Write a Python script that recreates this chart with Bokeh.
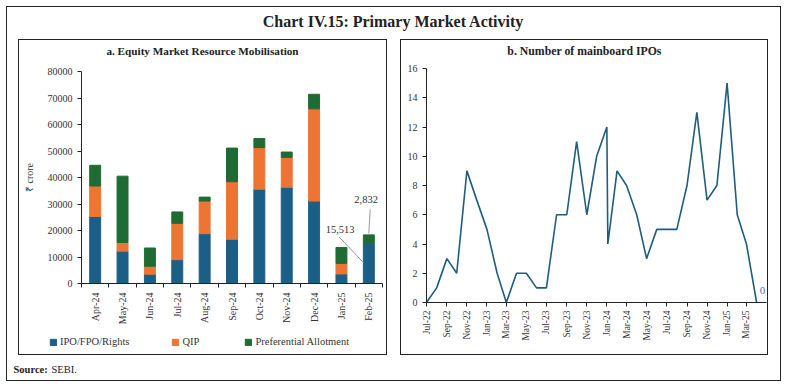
import numpy as np
import pandas as pd
from bokeh.plotting import figure
from bokeh.models import (ColumnDataSource, Range1d, FixedTicker, CustomJSTickFormatter,
                          Legend, LegendItem, Label, Spacer, DatetimeTickFormatter)
from bokeh.layouts import column, row
from bokeh.embed import file_html
from bokeh.resources import INLINE

# ---------------- data ----------------
months = ["Apr-24", "May-24", "Jun-24", "Jul-24", "Aug-24", "Sep-24",
          "Oct-24", "Nov-24", "Dec-24", "Jan-25", "Feb-25"]
ipo_fpo_rights = [25300, 12200, 3500, 9000, 18800, 16700, 35600, 36300, 31100, 3600, 15513]
qip = [11500, 3300, 3000, 13700, 12300, 21700, 15700, 11300, 34800, 4000, 0]
preferential = [7800, 25000, 6900, 4300, 1500, 12700, 3400, 2000, 5500, 6000, 2832]
series_names = ["IPO/FPO/Rights", "QIP", "Preferential Allotment"]

ipo_dates = ["2022-07-01", "2022-08-01", "2022-09-01", "2022-10-01", "2022-11-01", "2022-12-01",
             "2023-01-01", "2023-02-01", "2023-03-01", "2023-04-01", "2023-05-01", "2023-06-01",
             "2023-07-01", "2023-08-01", "2023-09-01", "2023-10-01", "2023-11-01", "2023-12-01",
             "2024-01-01", "2024-01-04", "2024-02-01", "2024-03-01", "2024-04-01", "2024-05-01",
             "2024-06-01", "2024-07-01", "2024-08-01", "2024-09-01", "2024-10-01", "2024-11-01",
             "2024-12-01", "2025-01-01", "2025-02-01", "2025-03-01", "2025-04-01"]
ipo_counts = [0, 1, 3, 2, 9, 7,
              5, 2, 0, 2, 2, 1,
              1, 6, 6, 11, 6, 10,
              12, 4, 9, 8, 6, 3,
              5, 5, 5, 8, 13, 7,
              8, 15, 6, 4, 0]

# ---------------- style ----------------
FONT = "Liberation Serif"
BLUE = "#1b5f86"
ORANGE = "#ed7433"
GREEN = "#1e6b34"
LINE = "#1f5d7e"
AX = "#222222"
TXT = "#333333"


def blank(width, height):
    return figure(width=width, height=height, x_range=Range1d(0, width), y_range=Range1d(0, height),
                  toolbar_location=None, output_backend="svg", min_border=0,
                  x_axis_type=None, y_axis_type=None, outline_line_color=None,
                  frame_align=False)


def hline(w):
    return Spacer(width=w, height=1, styles={"background-color": AX})


def vline(h):
    return Spacer(width=1, height=h, styles={"background-color": AX})


def style_axis(ax, size="10px"):
    ax.axis_line_color = AX
    ax.major_tick_line_color = AX
    ax.major_tick_in = 0
    ax.major_tick_out = 4
    ax.minor_tick_line_color = None
    ax.major_label_text_font = FONT
    ax.major_label_text_font_size = size
    ax.major_label_text_color = TXT
    ax.axis_label_text_font = FONT
    ax.axis_label_text_font_style = "normal"
    ax.axis_label_text_color = TXT


# ---------------- main title ----------------
IW, IH = 773, 373
title_fig = blank(IW, 32)
title_fig.add_layout(Label(x=386, y=18, text="Chart IV.15: Primary Market Activity",
                           text_align="center", text_baseline="middle", text_font=FONT,
                           text_font_style="bold", text_font_size="16px", text_color=AX))

# ---------------- panel a ----------------
AW = 367
subA = blank(AW, 22)
subA.add_layout(Label(x=183, y=12, text="a. Equity Market Resource Mobilisation",
                      text_align="center", text_baseline="middle", text_font=FONT,
                      text_font_style="bold", text_font_size="11.2px", text_color=AX))

n = len(months)
centers = [i + 0.5 for i in range(n)]
src = ColumnDataSource(dict(x=centers, ipo=ipo_fpo_rights, qip=qip, pref=preferential))

left = figure(width=AW, height=266, x_range=Range1d(0, n), y_range=Range1d(0, 80000),
              toolbar_location=None, output_backend="svg",
              min_border_left=62, min_border_right=4, min_border_top=9, min_border_bottom=45,
              outline_line_color=None, frame_align=False)
left.vbar_stack(["ipo", "qip", "pref"], x="x", width=0.4, color=[BLUE, ORANGE, GREEN], source=src)
left.grid.visible = False

xa = left.xaxis[0]
style_axis(xa, "10px")
xa.ticker = FixedTicker(ticks=centers, minor_ticks=list(range(n + 1)))
xa.formatter = CustomJSTickFormatter(args=dict(labels=months),
                                     code="return labels[Math.round(tick - 0.5)] || '';")
xa.major_tick_line_color = None
xa.minor_tick_line_color = AX
xa.minor_tick_in = 0
xa.minor_tick_out = 4
xa.major_label_orientation = np.pi / 2
xa.major_label_standoff = 5

ya = left.yaxis[0]
style_axis(ya, "10px")
ya.ticker = FixedTicker(ticks=list(range(0, 80001, 10000)))
ya.axis_label = "₹ crore"
ya.axis_label_text_font_size = "10px"
ya.axis_label_standoff = 10

# annotations for Feb-25
feb_c = centers[-1]
feb_ipo = ipo_fpo_rights[-1]
feb_total = ipo_fpo_rights[-1] + qip[-1] + preferential[-1]
ann = ColumnDataSource(dict(x0=[feb_c - 1.08, feb_c + 0.05], y0=[feb_ipo * 1.13, feb_total + 9600],
                            x1=[feb_c - 0.2, feb_c], y1=[feb_ipo * 0.51, feb_total + 500]))
left.segment(x0="x0", y0="y0", x1="x1", y1="y1", source=ann, line_color="#999999", line_width=1)
left.add_layout(Label(x=feb_c - 1.05, y=feb_ipo * 1.32, text=f"{feb_ipo:,}", text_align="center",
                      text_baseline="middle", text_font=FONT, text_font_size="10.5px", text_color=TXT))
left.add_layout(Label(x=feb_c - 0.1, y=feb_total + 13300, text=f"{preferential[-1]:,}",
                      text_align="center", text_baseline="middle", text_font=FONT,
                      text_font_size="10.5px", text_color=TXT))

# legend strip (same stacked series, hidden, only used for the legend keys)
legfig = blank(AW, 26)
leg_r = legfig.vbar_stack(["ipo", "qip", "pref"], x="x", width=0.4,
                          color=[BLUE, ORANGE, GREEN], source=src)
for r in leg_r:
    r.visible = False
legend = Legend(items=[LegendItem(label=series_names[i], renderers=[leg_r[i]]) for i in range(3)],
                orientation="horizontal", location=(30, 7),
                border_line_color=None, background_fill_alpha=0,
                label_text_font=FONT, label_text_font_size="10.5px", label_text_color=TXT,
                glyph_width=8, glyph_height=8, label_height=10, label_standoff=3,
                spacing=42, padding=0, margin=0)
legfig.add_layout(legend, "center")

panelA = column(hline(AW + 2),
                row(vline(314), column(subA, left, legfig), vline(314)),
                hline(AW + 2))

# ---------------- panel b ----------------
BW = 366
subB = blank(BW, 20)
subB.add_layout(Label(x=183, y=10, text="b. Number of mainboard IPOs",
                      text_align="center", text_baseline="middle", text_font=FONT,
                      text_font_style="bold", text_font_size="11.8px", text_color=AX))

dts = pd.to_datetime(ipo_dates)
lsrc = ColumnDataSource(dict(d=dts, n=ipo_counts))
x_end = dts[-1] + pd.Timedelta(days=30)
right = figure(width=BW, height=294, x_axis_type="datetime",
               x_range=Range1d(dts[0].to_pydatetime(), x_end.to_pydatetime()),
               y_range=Range1d(0, 16), toolbar_location=None, output_backend="svg",
               min_border_left=25, min_border_right=1, min_border_top=8, min_border_bottom=52,
               outline_line_color=None, frame_align=False)
right.line(x="d", y="n", source=lsrc, line_width=1.6, color=LINE)
right.grid.visible = False

tick_dates = pd.date_range(dts[0], dts[-1], freq="2MS")
rx = right.xaxis[0]
style_axis(rx, "9.5px")
rx.ticker = FixedTicker(ticks=[t.timestamp() * 1000 for t in tick_dates])
fmt = "%b-%y"
rx.formatter = DatetimeTickFormatter(milliseconds=fmt, seconds=fmt, minsec=fmt, minutes=fmt,
                                     hourmin=fmt, hours=fmt, days=fmt, months=fmt, years=fmt)
rx.major_label_orientation = np.pi / 2
rx.major_label_standoff = 4

ry = right.yaxis[0]
style_axis(ry, "10px")
ry.ticker = FixedTicker(ticks=list(range(0, 17, 2)))

right.add_layout(Label(x=dts[-1].to_pydatetime(), y=ipo_counts[-1], text=str(ipo_counts[-1]),
                       x_offset=3, y_offset=9, text_font=FONT, text_font_size="11px",
                       text_color="#4472c4"))

panelB = column(hline(BW + 2),
                row(vline(314), column(subB, right), vline(314)),
                hline(BW + 2))

# ---------------- source ----------------
source_fig = blank(IW, 25)
source_fig.add_layout(Label(x=6, y=11, text="Source:", text_baseline="middle", text_font=FONT,
                            text_font_style="bold", text_font_size="10.5px", text_color=AX))
source_fig.add_layout(Label(x=44, y=11, text="SEBI.", text_baseline="middle", text_font=FONT,
                            text_font_size="10.5px", text_color=AX))

inner = column(title_fig,
               row(Spacer(width=11, height=316), panelA, Spacer(width=13, height=316),
                   panelB, Spacer(width=12, height=316)),
               source_fig)
box = column(hline(IW + 2), row(vline(IH), inner, vline(IH)), hline(IW + 2))
layout = row(Spacer(width=6, height=10), column(Spacer(width=10, height=6), box))

open("out.html", "w").write(file_html(layout, INLINE))
